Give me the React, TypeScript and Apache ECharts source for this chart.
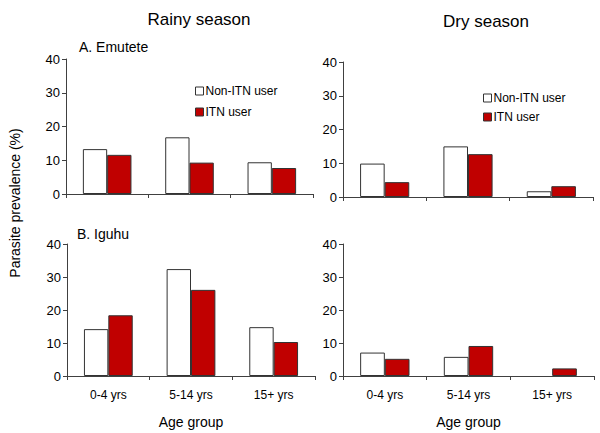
import React, { useEffect, useRef } from "react";
import * as echarts from "echarts";

const categories = ["0-4 yrs", "5-14 yrs", "15+ yrs"];
const rainyEmuteteNon = [13.3, 16.8, 9.4];
const rainyEmuteteITN = [11.6, 9.3, 7.7];
const dryEmuteteNon = [9.9, 15.0, 1.7];
const dryEmuteteITN = [4.4, 12.7, 3.2];
const rainyIguhuNon = [14.2, 32.4, 14.8];
const rainyIguhuITN = [18.4, 26.1, 10.3];
const dryIguhuNon = [7.1, 5.8, 0];
const dryIguhuITN = [5.2, 9.1, 2.3];
const yTicks = [0, 10, 20, 30, 40];

const FONT = "Liberation Sans, Arial, sans-serif";
const RED = "#C00000";
const AX = "#404040";

export default function App() {
  const ref = useRef<HTMLDivElement>(null);
  useEffect(() => {
    if (!ref.current) return;
    const chart = echarts.init(ref.current, undefined, { renderer: "svg" });
    const grids = [
      { left: 66, top: 59, width: 247, height: 135 },
      { left: 343, top: 62, width: 250, height: 135 },
      { left: 67, top: 244, width: 248, height: 132 },
      { left: 343, top: 244, width: 251, height: 132 },
    ];
    const data = [
      [rainyEmuteteNon, rainyEmuteteITN],
      [dryEmuteteNon, dryEmuteteITN],
      [rainyIguhuNon, rainyIguhuITN],
      [dryIguhuNon, dryIguhuITN],
    ];
    const toItems = (arr: number[]) =>
      arr.map((v) => (v === 0 ? { value: v, itemStyle: { borderWidth: 0 } } : v));
    const xAxis = grids.map((_, i) => ({
      type: "category",
      gridIndex: i,
      data: categories,
      axisLine: { lineStyle: { color: AX, width: 1 } },
      axisTick: { show: true, length: 4, lineStyle: { color: AX } },
      axisLabel: {
        show: i >= 2,
        color: "#000",
        fontSize: 12,
        fontFamily: FONT,
        margin: 13,
      },
      name: i >= 2 ? "Age group" : "",
      nameLocation: "middle",
      nameGap: 39,
      nameTextStyle: { color: "#000", fontSize: 14, fontFamily: FONT },
    }));
    const yAxis = grids.map((_, i) => ({
      type: "value",
      gridIndex: i,
      min: yTicks[0],
      max: yTicks[yTicks.length - 1],
      interval: yTicks[1] - yTicks[0],
      splitLine: { show: false },
      axisLine: { show: true, lineStyle: { color: AX, width: 1 } },
      axisTick: { show: true, length: 4, lineStyle: { color: AX } },
      axisLabel: { color: "#000", fontSize: 13, fontFamily: FONT, margin: 6 },
    }));
    const series: any[] = [];
    data.forEach((pair, i) => {
      series.push({
        type: "bar",
        name: "Non-ITN user",
        xAxisIndex: i,
        yAxisIndex: i,
        data: toItems(pair[0]),
        barGap: "0%",
        barCategoryGap: "41%",
        itemStyle: { color: "#ffffff", borderColor: "#333", borderWidth: 1 },
      });
      series.push({
        type: "bar",
        name: "ITN user",
        xAxisIndex: i,
        yAxisIndex: i,
        data: toItems(pair[1]),
        barGap: "0%",
        barCategoryGap: "41%",
        itemStyle: { color: RED, borderColor: "#333", borderWidth: 1 },
      });
    });
    const legendCommon = {
      orient: "vertical",
      icon: "rect",
      itemWidth: 8,
      itemHeight: 8,
      data: ["Non-ITN user", "ITN user"],
      itemStyle: { borderWidth: 1, borderColor: "#333" },
      textStyle: { color: "#000", fontSize: 12, fontFamily: FONT, padding: [0, 0, 0, -3] },
      padding: 0,
    };
    chart.setOption({
      animation: false,
      backgroundColor: "#fff",
      grid: grids,
      xAxis,
      yAxis,
      series,
      legend: [
        { ...legendCommon, left: 195, top: 85, itemGap: 9 },
        { ...legendCommon, left: 483, top: 92, itemGap: 7 },
      ],
      title: [
        { text: "Rainy season", left: 194, top: 6, textAlign: "center", textStyle: { fontSize: 17, fontWeight: "normal", color: "#000", fontFamily: FONT } },
        { text: "Dry season", left: 481, top: 8, textAlign: "center", textStyle: { fontSize: 17, fontWeight: "normal", color: "#000", fontFamily: FONT } },
        { text: "A. Emutete", left: 74, top: 35, textStyle: { fontSize: 14, fontWeight: "normal", color: "#000", fontFamily: FONT } },
        { text: "B. Iguhu", left: 72, top: 222, textStyle: { fontSize: 14, fontWeight: "normal", color: "#000", fontFamily: FONT } },
      ],
      graphic: [
        {
          type: "text",
          x: 15,
          y: 203,
          rotation: Math.PI / 2,
          style: {
            text: "Parasite prevalence (%)",
            fontSize: 14,
            fontFamily: FONT,
            fill: "#000",
            align: "center",
            verticalAlign: "middle",
          },
        },
      ],
    });
    return () => chart.dispose();
  }, []);
  return (
    <div
      ref={ref}
      style={{ position: "absolute", left: 0, top: 0, width: 600, height: 433 }}
    />
  );
}
